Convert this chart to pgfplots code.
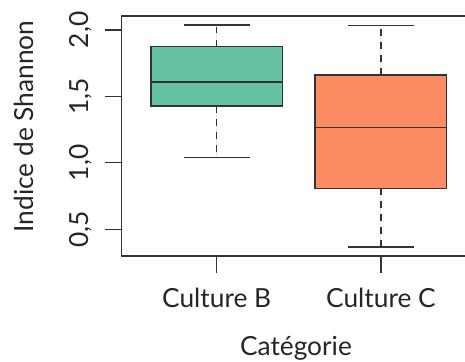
\documentclass[border=0pt]{standalone}
\usepackage{fontspec}
\setmainfont{Lato}
\usepackage{pgfplots}
\pgfplotsset{compat=1.18}
\usepgfplotslibrary{statistics}

\definecolor{boxB}{HTML}{66C2A5}
\definecolor{boxC}{HTML}{FC8D62}
\definecolor{ink}{HTML}{333333}

\pgfplotsset{
  rbox/.style={
    draw=ink, line width=1.5pt, solid,
    boxplot/draw direction=y,
    boxplot/box extend=0.8,
    boxplot/whisker extend=0.4,
    boxplot/draw/median/.code={},
    boxplot/draw/upper whisker/.code={
      \draw[ink, line width=1.2pt, dash pattern=on 6.5pt off 6.5pt]
        (boxplot cs:\pgfplotsboxplotvalue{upper quartile}) --
        (boxplot cs:\pgfplotsboxplotvalue{upper whisker});
      \draw[ink, line width=1.2pt, solid]
        (boxplot whisker cs:\pgfplotsboxplotvalue{upper whisker},0) --
        (boxplot whisker cs:\pgfplotsboxplotvalue{upper whisker},1);
    },
    boxplot/draw/lower whisker/.code={
      \draw[ink, line width=1.2pt, dash pattern=on 6.5pt off 6.5pt]
        (boxplot cs:\pgfplotsboxplotvalue{lower quartile}) --
        (boxplot cs:\pgfplotsboxplotvalue{lower whisker});
      \draw[ink, line width=1.2pt, solid]
        (boxplot whisker cs:\pgfplotsboxplotvalue{lower whisker},0) --
        (boxplot whisker cs:\pgfplotsboxplotvalue{lower whisker},1);
    },
  },
  medline/.style={ink, line width=1.6pt, no marks},
}

\begin{document}
\begin{tikzpicture}
\useasboundingbox (0pt,0pt) rectangle (465pt,361pt);
\begin{axis}[
  at={(121.7pt,105pt)}, anchor=south west,
  scale only axis, width=354.2pt, height=240pt,
  xmin=0.422, xmax=2.578, ymin=0.299, ymax=2.105,
  axis line style={ink, line width=1.3pt},
  xtick={1,2}, xticklabels={Culture B, Culture C},
  ytick={0.5,1,1.5,2}, yticklabels={{0,5},{1,0},{1,5},{2,0}},
  tick align=outside, tick pos=left,
  major tick length=17pt,
  tick style={ink, line width=1.2pt},
  tick label style={font=\fontsize{26.3}{31}\selectfont, text=black!85, inner sep=0pt},
  xticklabel style={anchor=north},
  yticklabel style={rotate=90, anchor=south},
  xticklabel shift=15pt,
  yticklabel shift=12pt,
  xlabel={Catégorie},
  ylabel={Indice de Shannon},
  label style={font=\fontsize{26.3}{31}\selectfont, text=black!85, inner sep=0pt},
  xlabel style={at={(axis description cs:0.492,-0.4125)}, anchor=base},
  ylabel style={at={(axis description cs:-0.277,0.54)}, anchor=center, rotate=0},
]
% Culture B
\addplot[rbox, fill=boxB, boxplot prepared={draw position=1,
  lower whisker=1.040, lower quartile=1.426, median=1.609,
  upper quartile=1.877, upper whisker=2.038}] coordinates {};
% Culture C
\addplot[rbox, fill=boxC, boxplot prepared={draw position=2,
  lower whisker=0.366, lower quartile=0.807, median=1.266,
  upper quartile=1.662, upper whisker=2.035}] coordinates {};
% median lines, drawn on top of the filled boxes
\addplot[medline] coordinates {(0.6,1.609) (1.4,1.609)};
\addplot[medline] coordinates {(1.6,1.266) (2.4,1.266)};
\end{axis}
\end{tikzpicture}
\end{document}
